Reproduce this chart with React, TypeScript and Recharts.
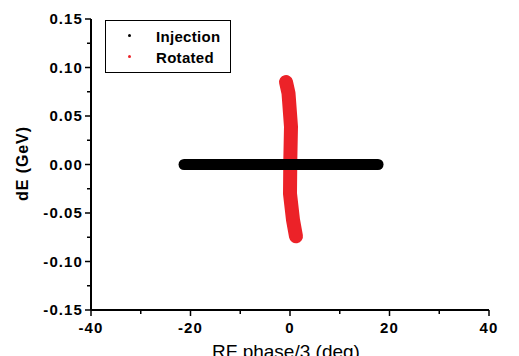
import React from 'react';
import { ScatterChart, Scatter, XAxis, YAxis } from 'recharts';

// ---- data ----
const injection = [
  { x: -21.3, y: 0.0 },
  { x: -10, y: 0.0 },
  { x: 0, y: 0.0 },
  { x: 10, y: 0.0 },
  { x: 17.7, y: 0.0 },
];

const rotated = [
  { x: -0.8, y: 0.085 },
  { x: -0.3, y: 0.0735 },
  { x: 0.2, y: 0.039 },
  { x: 0.06, y: 0.004 },
  { x: 0.0, y: -0.03 },
  { x: 0.6, y: -0.057 },
  { x: 1.2, y: -0.074 },
];

const xMajorTicks = [-40, -20, 0, 20, 40];
const xMinorTicks = [-30, -10, 10, 30];
const yMajorTicks = [-0.15, -0.1, -0.05, 0, 0.05, 0.1, 0.15];
const yMinorTicks = [-0.125, -0.075, -0.025, 0.025, 0.075, 0.125];
const seriesNames = ['Injection', 'Rotated'];
const seriesColors = ['#000000', '#ec2228'];

const FONT = '"Liberation Sans", Arial, Helvetica, sans-serif';

const isIn = (arr: number[], v: number) => arr.some((a) => Math.abs(a - v) < 1e-9);

const xTicks = [...xMajorTicks, ...xMinorTicks].sort((a, b) => a - b);
const yTicks = [...yMajorTicks, ...yMinorTicks].sort((a, b) => a - b);

const YTick = (props: any) => {
  const { x, y, payload } = props;
  const v = payload.value;
  const major = isIn(yMajorTicks, v);
  return (
    <g>
      <line x1={x - (major ? 6 : 4)} x2={x} y1={y} y2={y} stroke="#000" strokeWidth={1.5} />
      {major && (
        <text
          x={x - 8}
          y={y}
          dy={5}
          textAnchor="end"
          fontFamily={FONT}
          fontWeight="bold"
          fontSize={15}
          letterSpacing={1.1}
          fill="#000"
        >
          {v.toFixed(2)}
        </text>
      )}
    </g>
  );
};

const XTick = (props: any) => {
  const { x, y, payload } = props;
  const v = payload.value;
  const major = isIn(xMajorTicks, v);
  return (
    <g>
      <line x1={x} x2={x} y1={y} y2={y + (major ? 6 : 4)} stroke="#000" strokeWidth={1.5} />
      {major && (
        <text
          x={x}
          y={y + 23}
          textAnchor="middle"
          fontFamily={FONT}
          fontWeight="bold"
          fontSize={15}
          letterSpacing={1.1}
          fill="#000"
        >
          {String(v)}
        </text>
      )}
    </g>
  );
};

const XLabel = (props: any) => {
  const vb = props.viewBox || {};
  return (
    <text
      x={vb.x + vb.width / 2 - 4}
      y={vb.y + vb.height + 2}
      textAnchor="middle"
      fontFamily={FONT}
      fontSize={19}
      fill="#000"
    >
      RF phase/3 (deg)
    </text>
  );
};

const YLabel = (props: any) => {
  const vb = props.viewBox || {};
  const cx = 28;
  const cy = vb.y + vb.height / 2 - 1;
  return (
    <text
      x={cx}
      y={cy}
      transform={`rotate(-90, ${cx}, ${cy})`}
      textAnchor="middle"
      fontFamily={FONT}
      fontWeight="bold"
      fontSize={16}
      letterSpacing={0.9}
      fill="#000"
    >
      dE (GeV)
    </text>
  );
};

const LegendBox = () => (
  <div
    style={{
      position: 'absolute',
      left: 105,
      top: 20,
      width: 126,
      height: 53,
      border: '1.5px solid #000',
      boxSizing: 'border-box',
      background: '#fff',
      fontFamily: FONT,
      fontWeight: 'bold',
      fontSize: 15,
      letterSpacing: 0.3,
      color: '#000',
    }}
  >
    {seriesNames.map((n, i) => (
      <div key={n} style={{ position: 'absolute', left: 0, top: 6 + i * 21, height: 20, width: '100%' }}>
        <span
          style={{
            position: 'absolute',
            left: 22,
            top: 7,
            width: 3,
            height: 3,
            borderRadius: 2,
            background: seriesColors[i],
          }}
        />
        <span style={{ position: 'absolute', left: 50, top: 1, lineHeight: '17px', whiteSpace: 'nowrap' }}>{n}</span>
      </div>
    ))}
  </div>
);

const HiddenShape = () => <g />;

export default function App() {
  return (
    <div style={{ position: 'absolute', left: 0, top: 0, width: 519, height: 356, background: '#fff', overflow: 'hidden' }}>
      <ScatterChart width={519} height={356} margin={{ top: 19, right: 30, left: 0, bottom: 0 }}>
        <XAxis
          type="number"
          dataKey="x"
          domain={[-40, 40]}
          ticks={xTicks}
          interval={0}
          allowDataOverflow
          height={46}
          tickSize={0}
          tickMargin={0}
          tickLine={false}
          tick={<XTick />}
          axisLine={{ stroke: '#000', strokeWidth: 2 }}
          label={<XLabel />}
        />
        <YAxis
          type="number"
          dataKey="y"
          domain={[-0.15, 0.15]}
          ticks={yTicks}
          interval={0}
          allowDataOverflow
          width={91}
          tickSize={0}
          tickMargin={0}
          tickLine={false}
          tick={<YTick />}
          axisLine={{ stroke: '#000', strokeWidth: 2 }}
          label={<YLabel />}
        />
        <Scatter
          name={seriesNames[1]}
          data={rotated}
          fill={seriesColors[1]}
          line={{ stroke: seriesColors[1], strokeWidth: 14, strokeLinecap: 'round', strokeLinejoin: 'round' }}
          shape={<HiddenShape />}
          isAnimationActive={false}
        />
        <Scatter
          name={seriesNames[0]}
          data={injection}
          fill={seriesColors[0]}
          line={{ stroke: seriesColors[0], strokeWidth: 11, strokeLinecap: 'round', strokeLinejoin: 'round' }}
          shape={<HiddenShape />}
          isAnimationActive={false}
        />
      </ScatterChart>
      <LegendBox />
    </div>
  );
}
